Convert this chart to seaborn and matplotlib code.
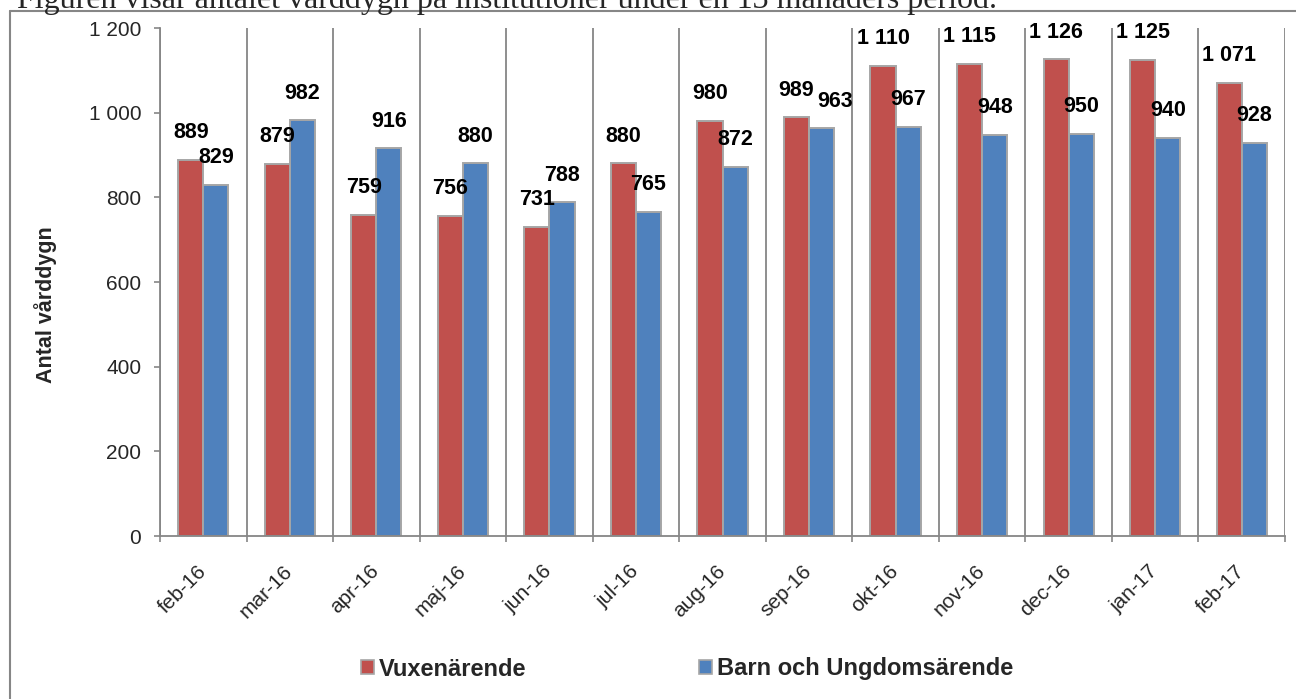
import matplotlib
matplotlib.use("Agg")
import matplotlib.pyplot as plt
import seaborn as sns
import pandas as pd
from matplotlib.lines import Line2D
from matplotlib.patches import Patch

months = ["feb-16", "mar-16", "apr-16", "maj-16", "jun-16", "jul-16", "aug-16",
          "sep-16", "okt-16", "nov-16", "dec-16", "jan-17", "feb-17"]
vuxen = [889, 879, 759, 756, 731, 880, 980, 989, 1110, 1115, 1126, 1125, 1071]
barn = [829, 982, 916, 880, 788, 765, 872, 963, 967, 948, 950, 940, 928]
series_names = ["Vuxenärende", "Barn och Ungdomsärende"]
yticks = [0, 200, 400, 600, 800, 1000, 1200]
ylabel = "Antal vårddygn"
caption = "Figuren visar antalet vårddygn på institutioner under en 13 månaders period."

colors = ["#C0504D", "#4F81BD"]
grey = "#868686"

sns.set_theme(style="white")
plt.rcParams["font.family"] = ["Liberation Sans", "DejaVu Sans"]

df = pd.DataFrame({
    "month": months * 2,
    "value": vuxen + barn,
    "serie": [series_names[0]] * len(months) + [series_names[1]] * len(months),
})

W, H = 1296, 699
fig = plt.figure(figsize=(W / 100, H / 100), dpi=100)
ax = fig.add_axes([160 / W, 1 - 536 / H, (1285 - 160) / W, (536 - 28) / H])

sns.barplot(data=df, x="month", y="value", hue="serie", order=months,
            hue_order=series_names, palette=colors, width=0.58,
            edgecolor="#A6A6A6", linewidth=1.4, ax=ax, legend=False,
            saturation=1)

def fmt(v):
    return f"{v:,}".replace(",", " ")

PAD = 12
label_sets = []
for cont, vals in zip(ax.containers, [vuxen, barn]):
    anns = ax.bar_label(cont, labels=[fmt(v) for v in vals], padding=PAD,
                        fontsize=15.5, fontweight="bold", color="black")
    label_sets.append(anns)

ax.set_xlim(-0.5, len(months) - 0.5)
ax.set_ylim(0, 1200)
ax.set_yticks(yticks)
ax.set_yticklabels([fmt(v) for v in yticks], fontsize=15)
ax.set_xlabel("")
ax.set_ylabel("")

# vertical separators between categories
bounds = [i - 0.5 for i in range(len(months) + 1)]
ax.set_xticks(bounds, minor=True)
ax.set_xticks(range(len(months)))
ax.set_xticklabels(months, rotation=45, ha="right", va="center",
                   rotation_mode="anchor", fontsize=15)
ax.tick_params(axis="x", which="major", length=0, pad=23)
ax.tick_params(axis="x", which="minor", length=4.5, width=1.2, color=grey,
               bottom=True)
ax.tick_params(axis="y", length=4.5, width=1.2, color=grey, left=True, pad=9)
ax.grid(False)
ax.grid(True, which="minor", axis="x", color=grey, linewidth=1.3)

for s in ["top", "right"]:
    ax.spines[s].set_visible(False)
for s in ["left", "bottom"]:
    ax.spines[s].set_color(grey)
    ax.spines[s].set_linewidth(1.3)

fig.text(45.8 / W, 1 - 305 / H, ylabel, rotation=90, ha="center", va="center",
         fontsize=15.5, fontweight="bold")

handles = [Patch(facecolor=c, edgecolor="#A6A6A6", linewidth=1.2) for c in colors]
fig.legend(handles, series_names, loc="center", bbox_to_anchor=(687 / W, 1 - 669 / H),
           ncol=2, frameon=False, prop={"weight": "bold", "size": 17},
           handlelength=0.55, handleheight=0.55, handletextpad=0.2,
           columnspacing=7.3, borderpad=0, borderaxespad=0)

# outer frame (partially visible)
fig.add_artist(Line2D([10 / W, 10 / W], [0, 1 - 11 / H], transform=fig.transFigure,
                      color=grey, linewidth=1.5))
fig.add_artist(Line2D([10 / W, 1], [1 - 11 / H, 1 - 11 / H], transform=fig.transFigure,
                      color=grey, linewidth=1.5))

fig.text(17 / W, 1 - 8 / H, caption, ha="left", va="baseline", fontsize=23,
         family=["Liberation Serif", "DejaVu Serif"])

# nudge colliding value labels sideways, like the original chart does
fig.canvas.draw()
renderer = fig.canvas.get_renderer()
for a_red, a_blue in zip(*label_sets):
    b1 = a_red.get_window_extent(renderer)
    b2 = a_blue.get_window_extent(renderer)
    if b1.overlaps(b2):
        shift_px = b1.x1 - b2.x0 + 3
        a_blue.xyann = (shift_px * 72 / fig.dpi, PAD)

fig.savefig("out.png", dpi=100)
